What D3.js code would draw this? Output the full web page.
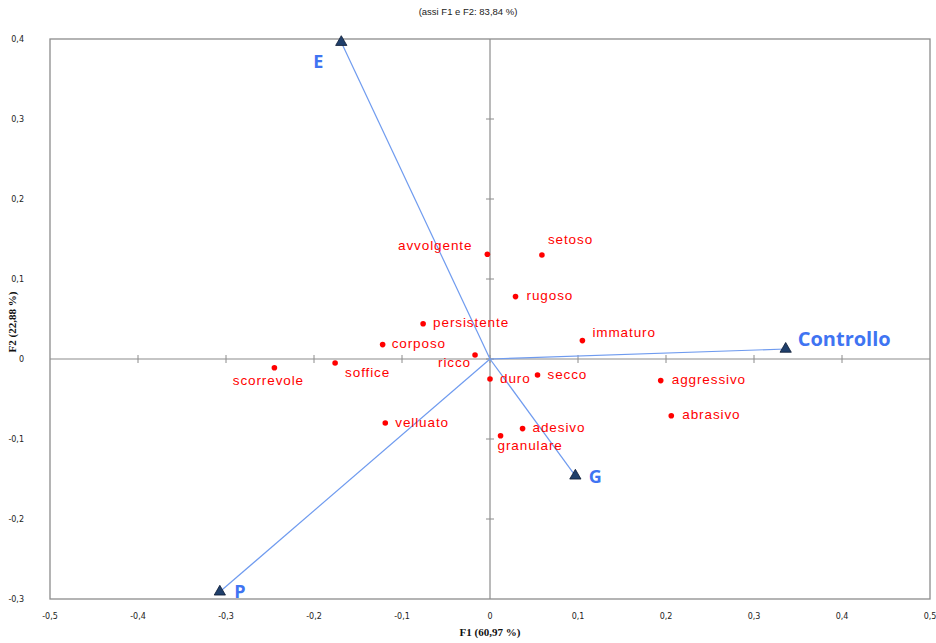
<!DOCTYPE html>
<html><head><meta charset="utf-8">
<script src="https://cdn.jsdelivr.net/npm/d3@7"></script>
<style>body{margin:0;background:#fff}svg{display:block}</style>
</head><body>
<svg id="c" width="936" height="643"></svg>
<script>
const varNames = ["avvolgente","setoso","rugoso","persistente","corposo","ricco","scorrevole","soffice","velluato","duro","secco","immaturo","aggressivo","abrasivo","adesivo","granulare"];
const varF1 = [-0.003,0.059,0.029,-0.076,-0.122,-0.017,-0.245,-0.176,-0.119,0.000,0.054,0.105,0.194,0.206,0.037,0.012];
const varF2 = [0.131,0.130,0.078,0.044,0.018,0.005,-0.011,-0.005,-0.080,-0.025,-0.020,0.023,-0.027,-0.071,-0.087,-0.096];
// label placement: dx, dy (px offsets), anchor
const varLabelPos = [[-15,-8,"end"],[6,-15,"start"],[11,0,"start"],[10,0,"start"],[9,0,"start"],[-4,8,"end"],[-6,14,"middle"],[10,10,"start"],[10,0,"start"],[10,0,"start"],[10,0,"start"],[10,-7,"start"],[11,0,"start"],[11,0,"start"],[10,0,"start"],[-3,11,"start"]];

const treatNames = ["E","Controllo","G","P"];
const treatF1 = [-0.169,0.336,0.097,-0.307];
const treatF2 = [0.396,0.0125,-0.146,-0.291];
const treatLabelPos = [[-23,21,"middle",18],[12,-8,"start",20],[20,2,"middle",18],[20,1,"middle",18]];

const xTicks = [-0.5,-0.4,-0.3,-0.2,-0.1,0,0.1,0.2,0.3,0.4,0.5];
const yTicks = [-0.3,-0.2,-0.1,0,0.1,0.2,0.3,0.4];

const titleText = "(assi F1 e F2: 83,84 %)";
const xLabel = "F1 (60,97 %)";
const yLabel = "F2 (22,88 %)";

const svg = d3.select("#c");
const x = d3.scaleLinear().domain([-0.5,0.5]).range([50,930]);
const y = d3.scaleLinear().domain([-0.3,0.4]).range([599,39]);
const fmt = v => v===0 ? "0" : d3.format(".1f")(v).replace(".",",").replace("−","-");

// frame
svg.append("rect").attr("x",x(-0.5)).attr("y",y(0.4)).attr("width",x(0.5)-x(-0.5)).attr("height",y(-0.3)-y(0.4))
  .attr("fill","none").attr("stroke","#8c8c8c").attr("stroke-width",1.3);

// zero axes
const g = svg.append("g");
g.append("line").attr("x1",x(-0.5)).attr("x2",x(0.5)).attr("y1",y(0)).attr("y2",y(0)).attr("stroke","#8c8c8c").attr("stroke-width",1.2);
g.append("line").attr("x1",x(0)).attr("x2",x(0)).attr("y1",y(0.4)).attr("y2",y(-0.3)).attr("stroke","#8c8c8c").attr("stroke-width",1.2);
xTicks.forEach(t=>{ if(t>-0.5 && t<0.5) g.append("line").attr("x1",x(t)).attr("x2",x(t)).attr("y1",y(0)-4).attr("y2",y(0)+4).attr("stroke","#8c8c8c"); });
yTicks.forEach(t=>{ if(t>-0.3 && t<0.4) g.append("line").attr("x1",x(0)-4).attr("x2",x(0)+4).attr("y1",y(t)).attr("y2",y(t)).attr("stroke","#8c8c8c"); });

// tick labels
svg.append("g").selectAll("text").data(xTicks).join("text")
  .attr("x",d=>x(d)).attr("y",619).attr("text-anchor","middle")
  .attr("font-family","DejaVu Sans, sans-serif").attr("font-size",8).attr("fill","#222").text(fmt);
svg.append("g").selectAll("text").data(yTicks).join("text")
  .attr("x",24).attr("y",d=>y(d)+3).attr("text-anchor","end")
  .attr("font-family","DejaVu Sans, sans-serif").attr("font-size",8).attr("fill","#222").text(fmt);

// title and axis labels
svg.append("text").attr("x",468).attr("y",15).attr("text-anchor","middle")
  .attr("font-family","Liberation Sans, Arial, sans-serif").attr("font-size",9.5).attr("fill","#222").text(titleText);
svg.append("text").attr("x",490).attr("y",636).attr("text-anchor","middle")
  .attr("font-family","Liberation Serif, serif").attr("font-weight","bold").attr("font-size",11).attr("fill","#111").text(xLabel);
svg.append("text").attr("transform","translate(16,322) rotate(-90)").attr("text-anchor","middle")
  .attr("font-family","Liberation Serif, serif").attr("font-weight","bold").attr("font-size",11).attr("fill","#111").text(yLabel);

// treatment vectors
const tg = svg.append("g");
treatNames.forEach((n,i)=>{
  tg.append("line").attr("x1",x(0)).attr("y1",y(0)).attr("x2",x(treatF1[i])).attr("y2",y(treatF2[i]))
    .attr("stroke","#6f9bef").attr("stroke-width",1.2);
});
treatNames.forEach((n,i)=>{
  tg.append("path").attr("d",d3.symbol(d3.symbolTriangle,55)())
    .attr("transform",`translate(${x(treatF1[i])},${y(treatF2[i])})`)
    .attr("fill","#1f3f6b").attr("stroke","#0d1b33").attr("stroke-width",0.8);
  const p = treatLabelPos[i];
  tg.append("text").attr("x",x(treatF1[i])+p[0]).attr("y",y(treatF2[i])+p[1]).attr("text-anchor",p[2])
    .attr("dominant-baseline","middle")
    .attr("font-family","Open Sans, Liberation Sans, sans-serif").attr("font-weight","bold").attr("font-size",p[3])
    .attr("fill","#3f74f2").text(n);
});

// variables
const vg = svg.append("g");
varNames.forEach((n,i)=>{
  vg.append("circle").attr("cx",x(varF1[i])).attr("cy",y(varF2[i])).attr("r",2.8).attr("fill","#ff0000");
  const p = varLabelPos[i];
  vg.append("text").attr("x",x(varF1[i])+p[0]).attr("y",y(varF2[i])+p[1]).attr("text-anchor",p[2])
    .attr("dominant-baseline","middle").attr("letter-spacing",0.9)
    .attr("font-family","Liberation Sans, Arial, sans-serif").attr("font-size",13.5).attr("fill","#ff0000").text(n);
});
</script>
</body></html>
